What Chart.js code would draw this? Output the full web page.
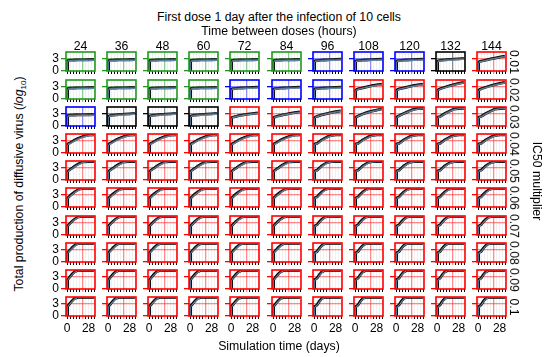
<!DOCTYPE html>
<html><head><meta charset="utf-8">
<script src="https://cdn.jsdelivr.net/npm/chart.js@4"></script>
<style>
body{margin:0;background:#fff;width:550px;height:357px;overflow:hidden;position:relative;font-family:"Liberation Sans",Arial,sans-serif;}
canvas{position:absolute}
.t{position:absolute;font-size:12.3px;color:#000;white-space:nowrap;transform:translate(-50%,-50%);line-height:1}
.rot{transform:translate(-50%,-50%) rotate(90deg)}
.rotl{transform:translate(-50%,-50%) rotate(-90deg)}
sub{font-size:8px;vertical-align:-3px}
</style></head><body>
<script>
// ---------- data ----------
const intervals = [24, 36, 48, 60, 72, 84, 96, 108, 120, 132, 144];
const ic50Labels = ['0.01','0.02','0.03','0.04','0.05','0.06','0.07','0.08','0.09','0.1'];
const xTickValues = [0, 4, 8, 12, 16, 20, 24, 28, 32, 36];
const xTickLabels = [0, 28];
const yTickValues = [0, 3];
const markerDay = 20;
const markerLevel = 3;
const days = [0, 0.5, 1, 2, 4, 7, 10, 14, 18, 22, 28, 35];

const flatMid = [0, 1.6, 2.5, 2.6, 2.65, 2.68, 2.7, 2.72, 2.74, 2.75, 2.76, 2.78];
const flatHi  = [0, 1.8, 2.7, 2.8, 2.85, 2.88, 2.9, 2.92, 2.94, 2.95, 2.96, 2.98];
const flatLo  = [0, 1.4, 2.3, 2.4, 2.45, 2.48, 2.5, 2.52, 2.54, 2.55, 2.56, 2.58];

const riseMid = [0, 1.5, 2.4, 2.5, 2.55, 2.6, 2.65, 2.7, 2.75, 2.8, 2.85, 2.9];
const riseHi  = [0, 1.7, 2.6, 2.7, 2.75, 2.8, 2.85, 2.9, 2.95, 3.0, 3.05, 3.1];
const riseLo  = [0, 1.3, 2.2, 2.3, 2.35, 2.4, 2.45, 2.5, 2.5, 2.55, 2.6, 2.65];

const blackMid = [0, 1.5, 2.4, 2.5, 2.6, 2.65, 2.7, 2.8, 2.85, 2.9, 3.0, 3.1];
const blackHi  = [0, 1.7, 2.6, 2.7, 2.8, 2.85, 2.95, 3.05, 3.1, 3.15, 3.25, 3.35];
const blackLo  = [0, 1.3, 2.2, 2.3, 2.4, 2.45, 2.5, 2.55, 2.6, 2.65, 2.75, 2.85];

const r1Mid = [0, 1.4, 2.1, 2.3, 2.4, 2.5, 2.65, 2.85, 3.05, 3.2, 3.45, 3.7];
const r1Hi  = [0, 1.6, 2.3, 2.45, 2.55, 2.65, 2.8, 3.0, 3.2, 3.35, 3.6, 3.85];
const r1Lo  = [0, 1.2, 1.9, 2.15, 2.25, 2.35, 2.5, 2.7, 2.9, 3.05, 3.3, 3.55];

const r2aMid = [0, 1.4, 2.1, 2.3, 2.45, 2.6, 2.75, 2.95, 3.15, 3.3, 3.5, 3.7];
const r2aHi  = [0, 1.6, 2.3, 2.45, 2.6, 2.75, 2.9, 3.1, 3.3, 3.45, 3.65, 3.85];
const r2aLo  = [0, 1.2, 1.9, 2.15, 2.3, 2.45, 2.6, 2.8, 2.95, 3.1, 3.3, 3.5];

const r2bMid = [0, 1.4, 2.1, 2.3, 2.5, 2.7, 2.9, 3.15, 3.4, 3.6, 3.9, 4.2];
const r2bHi  = [0, 1.6, 2.3, 2.45, 2.65, 2.85, 3.05, 3.3, 3.55, 3.75, 4.05, 4.35];
const r2bLo  = [0, 1.2, 1.9, 2.15, 2.35, 2.55, 2.75, 2.95, 3.2, 3.4, 3.7, 4.0];

const r3aMid = [0, 1.3, 2.0, 2.1, 2.2, 2.35, 2.5, 2.65, 2.8, 2.9, 3.05, 3.25];
const r3aHi  = [0, 1.5, 2.2, 2.3, 2.4, 2.55, 2.7, 2.85, 3.0, 3.1, 3.25, 3.45];
const r3aLo  = [0, 1.1, 1.8, 1.95, 2.05, 2.2, 2.35, 2.5, 2.65, 2.75, 2.9, 3.1];

const r3bMid = [0, 1.3, 2.0, 2.15, 2.3, 2.45, 2.6, 2.8, 2.95, 3.1, 3.3, 3.5];
const r3bHi  = [0, 1.5, 2.2, 2.35, 2.5, 2.65, 2.8, 3.0, 3.15, 3.3, 3.5, 3.7];
const r3bLo  = [0, 1.1, 1.8, 2.0, 2.15, 2.3, 2.45, 2.65, 2.8, 2.95, 3.15, 3.35];

const r3cMid = [0, 1.3, 2.0, 2.2, 2.35, 2.55, 2.75, 2.95, 3.15, 3.3, 3.55, 3.8];
const r3cHi  = [0, 1.5, 2.2, 2.4, 2.55, 2.75, 2.95, 3.15, 3.35, 3.5, 3.75, 4.0];
const r3cLo  = [0, 1.1, 1.8, 2.05, 2.2, 2.4, 2.6, 2.8, 3.0, 3.15, 3.4, 3.65];

const r3dMid = [0, 1.4, 2.1, 2.25, 2.45, 2.7, 2.95, 3.25, 3.5, 3.7, 4.0, 4.3];
const r3dHi  = [0, 1.6, 2.3, 2.45, 2.65, 2.9, 3.15, 3.45, 3.7, 3.9, 4.2, 4.45];
const r3dLo  = [0, 1.2, 1.9, 2.1, 2.3, 2.55, 2.8, 3.1, 3.35, 3.55, 3.85, 4.15];

const r3eMid = [0, 1.4, 2.1, 2.3, 2.5, 2.8, 3.1, 3.45, 3.8, 4.1, 4.35, 4.4];
const r3eHi  = [0, 1.6, 2.3, 2.5, 2.7, 3.0, 3.3, 3.65, 4.0, 4.25, 4.45, 4.5];
const r3eLo  = [0, 1.2, 1.9, 2.15, 2.35, 2.65, 2.95, 3.3, 3.6, 3.9, 4.2, 4.3];

const r3fMid = [0, 1.5, 2.1, 2.2, 2.3, 2.7, 3.1, 3.5, 3.9, 4.25, 4.4, 4.45];
const r3fHi  = [0, 1.7, 2.3, 2.4, 2.5, 2.9, 3.3, 3.7, 4.1, 4.4, 4.5, 4.55];
const r3fLo  = [0, 1.3, 1.9, 2.05, 2.15, 2.5, 2.9, 3.3, 3.7, 4.05, 4.3, 4.35];

// rows 0.04 - 0.1, short intervals (24-84 h)
const r4Mid = [0, 1.4, 2.2, 2.3, 2.5, 2.85, 3.2, 3.6, 3.95, 4.25, 4.5, 4.6];
const r4Hi  = [0, 1.6, 2.4, 2.45, 2.65, 3.0, 3.35, 3.75, 4.1, 4.4, 4.6, 4.65];
const r4Lo  = [0, 1.2, 1.9, 2.05, 2.25, 2.6, 2.95, 3.35, 3.7, 4.0, 4.3, 4.5];

const r5Mid = [0, 1.4, 2.1, 2.3, 2.6, 3.0, 3.45, 3.95, 4.35, 4.6, 4.65, 4.65];
const r5Hi  = [0, 1.6, 2.3, 2.45, 2.75, 3.15, 3.6, 4.1, 4.5, 4.68, 4.7, 4.7];
const r5Lo  = [0, 1.2, 1.9, 2.1, 2.4, 2.8, 3.2, 3.7, 4.1, 4.45, 4.6, 4.6];

const r6Mid = [0, 1.5, 2.2, 2.4, 2.8, 3.3, 3.8, 4.3, 4.6, 4.68, 4.68, 4.68];
const r6Hi  = [0, 1.7, 2.4, 2.55, 2.95, 3.45, 3.95, 4.45, 4.7, 4.72, 4.72, 4.72];
const r6Lo  = [0, 1.3, 2.0, 2.2, 2.55, 3.05, 3.55, 4.05, 4.45, 4.6, 4.65, 4.65];

const r7Mid = [0, 1.5, 2.2, 2.5, 2.9, 3.5, 4.0, 4.5, 4.68, 4.7, 4.7, 4.7];
const r7Hi  = [0, 1.7, 2.4, 2.65, 3.05, 3.65, 4.15, 4.62, 4.72, 4.72, 4.72, 4.72];
const r7Lo  = [0, 1.3, 2.0, 2.3, 2.65, 3.25, 3.75, 4.3, 4.6, 4.65, 4.68, 4.68];

const r8Mid = [0, 1.6, 2.3, 2.6, 3.0, 3.65, 4.2, 4.65, 4.7, 4.7, 4.7, 4.7];
const r8Hi  = [0, 1.8, 2.5, 2.75, 3.15, 3.8, 4.35, 4.72, 4.72, 4.72, 4.72, 4.72];
const r8Lo  = [0, 1.4, 2.1, 2.4, 2.75, 3.4, 3.95, 4.5, 4.65, 4.68, 4.68, 4.68];

const r9Mid = [0, 1.6, 2.3, 2.6, 3.1, 3.8, 4.35, 4.7, 4.72, 4.72, 4.72, 4.72];
const r9Hi  = [0, 1.8, 2.5, 2.75, 3.25, 3.95, 4.5, 4.74, 4.74, 4.74, 4.74, 4.74];
const r9Lo  = [0, 1.4, 2.1, 2.4, 2.85, 3.55, 4.1, 4.6, 4.68, 4.7, 4.7, 4.7];

const r10Mid = [0, 1.7, 2.4, 2.7, 3.2, 3.9, 4.45, 4.72, 4.72, 4.72, 4.72, 4.72];
const r10Hi  = [0, 1.9, 2.6, 2.85, 3.35, 4.05, 4.6, 4.74, 4.74, 4.74, 4.74, 4.74];
const r10Lo  = [0, 1.5, 2.2, 2.5, 2.95, 3.65, 4.2, 4.65, 4.7, 4.7, 4.7, 4.7];

// rows 0.04 - 0.1, long intervals (96-144 h): early shoulder
const r4sMid = [0, 1.5, 2.2, 2.3, 2.35, 2.8, 3.25, 3.7, 4.1, 4.4, 4.55, 4.6];
const r4sHi  = [0, 1.7, 2.4, 2.45, 2.5, 2.95, 3.4, 3.85, 4.25, 4.5, 4.62, 4.65];
const r4sLo  = [0, 1.3, 2.0, 2.1, 2.15, 2.55, 3.0, 3.45, 3.85, 4.2, 4.45, 4.5];

const r5sMid = [0, 1.5, 2.2, 2.3, 2.4, 2.95, 3.5, 4.05, 4.45, 4.62, 4.65, 4.65];
const r5sHi  = [0, 1.7, 2.4, 2.45, 2.55, 3.1, 3.65, 4.2, 4.58, 4.68, 4.7, 4.7];
const r5sLo  = [0, 1.3, 2.0, 2.1, 2.2, 2.7, 3.25, 3.8, 4.25, 4.5, 4.6, 4.6];

const r6sMid = [0, 1.5, 2.2, 2.3, 2.45, 3.15, 3.75, 4.35, 4.62, 4.68, 4.68, 4.68];
const r6sHi  = [0, 1.7, 2.4, 2.45, 2.6, 3.3, 3.9, 4.5, 4.72, 4.72, 4.72, 4.72];
const r6sLo  = [0, 1.3, 2.0, 2.1, 2.25, 2.9, 3.5, 4.1, 4.45, 4.6, 4.65, 4.65];

const r7sMid = [0, 1.6, 2.2, 2.3, 2.5, 3.3, 3.95, 4.5, 4.68, 4.7, 4.7, 4.7];
const r7sHi  = [0, 1.8, 2.4, 2.45, 2.65, 3.45, 4.1, 4.62, 4.72, 4.72, 4.72, 4.72];
const r7sLo  = [0, 1.4, 2.0, 2.1, 2.3, 3.05, 3.7, 4.3, 4.6, 4.65, 4.68, 4.68];

const r8sMid = [0, 1.6, 2.25, 2.35, 2.6, 3.45, 4.15, 4.65, 4.7, 4.7, 4.7, 4.7];
const r8sHi  = [0, 1.8, 2.45, 2.5, 2.75, 3.6, 4.3, 4.72, 4.72, 4.72, 4.72, 4.72];
const r8sLo  = [0, 1.4, 2.05, 2.15, 2.4, 3.2, 3.9, 4.5, 4.65, 4.68, 4.68, 4.68];

const r9sMid = [0, 1.7, 2.3, 2.4, 2.7, 3.6, 4.3, 4.7, 4.72, 4.72, 4.72, 4.72];
const r9sHi  = [0, 1.9, 2.5, 2.55, 2.85, 3.75, 4.45, 4.74, 4.74, 4.74, 4.74, 4.74];
const r9sLo  = [0, 1.5, 2.1, 2.2, 2.5, 3.35, 4.05, 4.6, 4.68, 4.7, 4.7, 4.7];

const r10sMid = [0, 1.7, 2.3, 2.4, 2.75, 3.7, 4.4, 4.72, 4.72, 4.72, 4.72, 4.72];
const r10sHi  = [0, 1.9, 2.5, 2.55, 2.9, 3.85, 4.55, 4.74, 4.74, 4.74, 4.74, 4.74];
const r10sLo  = [0, 1.5, 2.1, 2.2, 2.55, 3.45, 4.15, 4.65, 4.7, 4.7, 4.7, 4.7];

// which curve shape each panel shows (rows = IC50 multiplier, columns = interval)
const panelShapes = [
  ['flat','flat','flat','flat','flat','flat','rise','rise','rise','black','r1'],
  ['flat','flat','flat','flat','rise','rise','rise','r2a','r2a','r2b','r2b'],
  ['flat','black','black','black','r3a','r3b','r3c','r3d','r3e','r3f','r3f'],
  ['r4','r4','r4','r4','r4','r4','r4s','r4s','r4s','r4s','r4s'],
  ['r5','r5','r5','r5','r5','r5','r5s','r5s','r5s','r5s','r5s'],
  ['r6','r6','r6','r6','r6','r6','r6s','r6s','r6s','r6s','r6s'],
  ['r7','r7','r7','r7','r7','r7','r7s','r7s','r7s','r7s','r7s'],
  ['r8','r8','r8','r8','r8','r8','r8s','r8s','r8s','r8s','r8s'],
  ['r9','r9','r9','r9','r9','r9','r9s','r9s','r9s','r9s','r9s'],
  ['r10','r10','r10','r10','r10','r10','r10s','r10s','r10s','r10s','r10s']
];
// frame colour of each panel: G green, B blue, K black, R red
const frameCodes = [
  'GGGGGGBBBKR',
  'GGGGBBBRRRR',
  'BKKKRRRRRRR',
  'RRRRRRRRRRR','RRRRRRRRRRR','RRRRRRRRRRR','RRRRRRRRRRR',
  'RRRRRRRRRRR','RRRRRRRRRRR','RRRRRRRRRRR'
];

// ---------- lookup tables built from the arrays ----------
const shapes = {
  flat:[flatLo,flatHi,flatMid], rise:[riseLo,riseHi,riseMid], black:[blackLo,blackHi,blackMid],
  r1:[r1Lo,r1Hi,r1Mid], r2a:[r2aLo,r2aHi,r2aMid], r2b:[r2bLo,r2bHi,r2bMid],
  r3a:[r3aLo,r3aHi,r3aMid], r3b:[r3bLo,r3bHi,r3bMid], r3c:[r3cLo,r3cHi,r3cMid],
  r3d:[r3dLo,r3dHi,r3dMid], r3e:[r3eLo,r3eHi,r3eMid], r3f:[r3fLo,r3fHi,r3fMid],
  r4:[r4Lo,r4Hi,r4Mid], r5:[r5Lo,r5Hi,r5Mid], r6:[r6Lo,r6Hi,r6Mid], r7:[r7Lo,r7Hi,r7Mid],
  r8:[r8Lo,r8Hi,r8Mid], r9:[r9Lo,r9Hi,r9Mid], r10:[r10Lo,r10Hi,r10Mid],
  r4s:[r4sLo,r4sHi,r4sMid], r5s:[r5sLo,r5sHi,r5sMid], r6s:[r6sLo,r6sHi,r6sMid], r7s:[r7sLo,r7sHi,r7sMid],
  r8s:[r8sLo,r8sHi,r8sMid], r9s:[r9sLo,r9sHi,r9sMid], r10s:[r10sLo,r10sHi,r10sMid]
};
const frameColor = {G:'#1f9a1f', B:'#0000ff', K:'#000000', R:'#ff0000'};
const frameLight = {G:'rgba(31,154,31,0.5)', B:'rgba(0,0,255,0.45)', K:'rgba(0,0,0,0.45)', R:'rgba(255,0,0,0.45)'};

// ---------- layout ----------
const AREA_X0 = 66, AREA_DX = 41.1, AREA_Y0 = 52.3, AREA_DY = 27.2;
const AREA_W = 29, AREA_H = 19;
const Y_AXIS_W = 20, X_AXIS_H = 16, PAD_T = 2, PAD_R = 3;

Chart.defaults.font.family = '"Liberation Sans", Arial, sans-serif';
Chart.defaults.font.size = 12;
Chart.defaults.color = '#000';

const framePlugin = {
  id: 'frame',
  afterDatasetsDraw(chart, args, opts) {
    const a = chart.chartArea, ctx = chart.ctx;
    ctx.save();
    ctx.strokeStyle = opts.color;
    ctx.lineWidth = 1.6;
    ctx.strokeRect(a.left, a.top, a.right - a.left, a.bottom - a.top);
    ctx.restore();
  }
};

function addText(html, x, y, cls) {
  const d = document.createElement('div');
  d.className = 't' + (cls ? ' ' + cls : '');
  d.innerHTML = html;
  d.style.left = x + 'px';
  d.style.top = y + 'px';
  document.body.appendChild(d);
}

function zeroPad(ax) { ax.paddingTop = 0; ax.paddingBottom = 0; ax.paddingLeft = 0; ax.paddingRight = 0; }

for (let r = 0; r < ic50Labels.length; r++) {
  for (let c = 0; c < intervals.length; c++) {
    const code = frameCodes[r][c];
    const [lo, hi, mid] = shapes[panelShapes[r][c]];
    const areaL = Math.round(AREA_X0 + AREA_DX * c);
    const areaT = Math.round(AREA_Y0 + AREA_DY * r);
    const cv = document.createElement('canvas');
    const W = Y_AXIS_W + AREA_W + PAD_R, H = PAD_T + AREA_H + X_AXIS_H;
    cv.width = W; cv.height = H;
    cv.style.width = W + 'px'; cv.style.height = H + 'px';
    cv.style.left = (areaL - Y_AXIS_W) + 'px';
    cv.style.top = (areaT - PAD_T) + 'px';
    document.body.appendChild(cv);
    const isBottom = r === ic50Labels.length - 1;
    const isLeft = c === 0;
    const toPts = arr => days.map((d, i) => ({x: d, y: arr[i]}));
    new Chart(cv, {
      type: 'line',
      data: {
        datasets: [
          {data: toPts(lo), borderColor: 'rgba(120,175,225,0.75)', borderWidth: 1, pointRadius: 0, fill: false},
          {data: toPts(hi), borderColor: 'rgba(0,0,0,0)', borderWidth: 0, pointRadius: 0, fill: '-1', backgroundColor: 'rgba(160,160,160,0.5)'},
          {data: toPts(mid), borderColor: '#000', borderWidth: 2.8, pointRadius: 0, fill: false}
        ]
      },
      options: {
        responsive: false, animation: false, devicePixelRatio: 1,
        layout: {padding: {top: PAD_T, right: PAD_R, left: 0, bottom: 0}},
        plugins: {legend: {display: false}, tooltip: {enabled: false}, title: {display: false}, frame: {color: frameColor[code]}},
        elements: {line: {tension: 0}},
        scales: {
          x: {
            type: 'linear', min: -1.4, max: 36.4,
            afterBuildTicks: ax => { ax.ticks = xTickValues.map(v => ({value: v})); },
            afterFit: ax => { ax.height = X_AXIS_H; zeroPad(ax); },
            border: {display: false},
            grid: {
              color: ctx => (ctx.tick && ctx.tick.value === markerDay) ? frameLight[code] : 'rgba(0,0,0,0.06)',
              lineWidth: ctx => (ctx.tick && ctx.tick.value === markerDay) ? 1.3 : 1,
              tickColor: ctx => (ctx.tick && ctx.tick.value === markerDay) ? frameLight[code] : '#000',
              tickLength: 3, drawTicks: true
            },
            ticks: {
              display: isBottom, autoSkip: false, maxRotation: 0, padding: 2,
              callback: v => xTickLabels.includes(v) ? String(v) : ''
            }
          },
          y: {
            type: 'linear', min: -0.2, max: 4.8,
            afterBuildTicks: ax => { ax.ticks = yTickValues.map(v => ({value: v})); },
            afterFit: ax => { ax.width = Y_AXIS_W; zeroPad(ax); },
            border: {display: false},
            grid: {
              color: ctx => (ctx.tick && ctx.tick.value === markerLevel) ? frameLight[code] : 'rgba(0,0,0,0)',
              lineWidth: 1.3,
              tickColor: frameColor[code],
              tickLength: 5, drawTicks: true
            },
            ticks: {display: isLeft, autoSkip: false, padding: 2, callback: v => String(v)}
          }
        }
      },
      plugins: [framePlugin]
    });
    if (r === 0) addText(String(intervals[c]), areaL + AREA_W / 2, 45.5);
    if (c === intervals.length - 1) addText(ic50Labels[r], 514, areaT + AREA_H / 2, 'rot');
  }
}
addText('First dose 1 day after the infection of 10 cells', 279, 17);
addText('Time between doses (hours)', 279, 30.5);
addText('Simulation time (days)', 279, 346);
addText('Total production of diffusive virus (<i>log</i><sub>10</sub>)', 20, 184, 'rotl');
addText('IC50 multiplier', 537, 181, 'rot');
</script>
</body></html>
